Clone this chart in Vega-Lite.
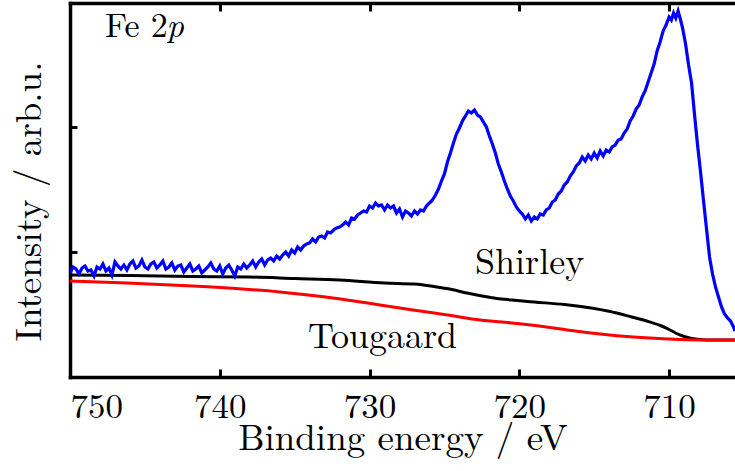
{
  "$schema": "https://vega.github.io/schema/vega-lite/v6.json",
  "width": 665,
  "height": 374,
  "autosize": {"type": "none"},
  "padding": {"left": 70, "top": 3, "right": 0, "bottom": 94},
  "config": {
    "view": {"stroke": null},
    "axis": {
      "grid": false,
      "domainColor": "black",
      "domainWidth": 3.5,
      "domainCap": "square",
      "tickColor": "black",
      "tickWidth": 3,
      "tickSize": -8,
      "labelFont": "Latin Modern Roman, CMU Serif, TeX Gyre Termes, Nimbus Roman, FreeSerif, Times, Liberation Serif, DejaVu Serif, serif",
      "titleFont": "Latin Modern Roman, CMU Serif, TeX Gyre Termes, Nimbus Roman, FreeSerif, Times, Liberation Serif, DejaVu Serif, serif",
      "labelFontSize": 35,
      "titleFontSize": 37,
      "titleFontWeight": "normal",
      "labelColor": "black",
      "titleColor": "black"
    }
  },
  "datasets": {
    "spectrum": [
      {"energy": 750.0, "intensity": 104}, {"energy": 749.8, "intensity": 110}, {"energy": 749.6, "intensity": 108}, {"energy": 749.4, "intensity": 103},
      {"energy": 749.2, "intensity": 109}, {"energy": 749.0, "intensity": 111}, {"energy": 748.8, "intensity": 106}, {"energy": 748.6, "intensity": 107},
      {"energy": 748.4, "intensity": 101}, {"energy": 748.2, "intensity": 110}, {"energy": 748.0, "intensity": 108}, {"energy": 747.8, "intensity": 113},
      {"energy": 747.6, "intensity": 106}, {"energy": 747.4, "intensity": 109}, {"energy": 747.2, "intensity": 102}, {"energy": 747.0, "intensity": 115},
      {"energy": 746.8, "intensity": 111}, {"energy": 746.6, "intensity": 108}, {"energy": 746.4, "intensity": 112}, {"energy": 746.2, "intensity": 107},
      {"energy": 746.0, "intensity": 113}, {"energy": 745.8, "intensity": 116}, {"energy": 745.6, "intensity": 109}, {"energy": 745.4, "intensity": 111},
      {"energy": 745.2, "intensity": 117}, {"energy": 745.0, "intensity": 110}, {"energy": 744.8, "intensity": 108}, {"energy": 744.6, "intensity": 113},
      {"energy": 744.4, "intensity": 115}, {"energy": 744.2, "intensity": 109}, {"energy": 744.0, "intensity": 112}, {"energy": 743.8, "intensity": 116},
      {"energy": 743.6, "intensity": 108}, {"energy": 743.4, "intensity": 110}, {"energy": 743.2, "intensity": 114}, {"energy": 743.0, "intensity": 107},
      {"energy": 742.8, "intensity": 111}, {"energy": 742.6, "intensity": 112}, {"energy": 742.4, "intensity": 105}, {"energy": 742.2, "intensity": 109},
      {"energy": 742.0, "intensity": 113}, {"energy": 741.8, "intensity": 106}, {"energy": 741.6, "intensity": 108}, {"energy": 741.4, "intensity": 111},
      {"energy": 741.2, "intensity": 104}, {"energy": 741.0, "intensity": 107}, {"energy": 740.8, "intensity": 110}, {"energy": 740.6, "intensity": 114},
      {"energy": 740.4, "intensity": 108}, {"energy": 740.2, "intensity": 106}, {"energy": 740.0, "intensity": 111}, {"energy": 739.8, "intensity": 103},
      {"energy": 739.6, "intensity": 109}, {"energy": 739.4, "intensity": 112}, {"energy": 739.2, "intensity": 107}, {"energy": 739.0, "intensity": 101},
      {"energy": 738.8, "intensity": 110}, {"energy": 738.6, "intensity": 108}, {"energy": 738.4, "intensity": 113}, {"energy": 738.2, "intensity": 109},
      {"energy": 738.0, "intensity": 112}, {"energy": 737.8, "intensity": 116}, {"energy": 737.6, "intensity": 110}, {"energy": 737.4, "intensity": 115},
      {"energy": 737.2, "intensity": 118}, {"energy": 737.0, "intensity": 112}, {"energy": 736.8, "intensity": 117}, {"energy": 736.6, "intensity": 119},
      {"energy": 736.4, "intensity": 116}, {"energy": 736.2, "intensity": 121}, {"energy": 736.0, "intensity": 118}, {"energy": 735.8, "intensity": 122},
      {"energy": 735.6, "intensity": 125}, {"energy": 735.4, "intensity": 121}, {"energy": 735.2, "intensity": 127}, {"energy": 735.0, "intensity": 124},
      {"energy": 734.8, "intensity": 130}, {"energy": 734.6, "intensity": 127}, {"energy": 734.4, "intensity": 131}, {"energy": 734.2, "intensity": 133},
      {"energy": 734.0, "intensity": 134}, {"energy": 733.8, "intensity": 138}, {"energy": 733.6, "intensity": 135}, {"energy": 733.4, "intensity": 140},
      {"energy": 733.2, "intensity": 141}, {"energy": 733.0, "intensity": 139}, {"energy": 732.8, "intensity": 145}, {"energy": 732.6, "intensity": 144},
      {"energy": 732.4, "intensity": 147}, {"energy": 732.2, "intensity": 149}, {"energy": 732.0, "intensity": 150}, {"energy": 731.8, "intensity": 152},
      {"energy": 731.6, "intensity": 155}, {"energy": 731.4, "intensity": 152}, {"energy": 731.2, "intensity": 159}, {"energy": 731.0, "intensity": 158},
      {"energy": 730.8, "intensity": 162}, {"energy": 730.6, "intensity": 164}, {"energy": 730.4, "intensity": 166}, {"energy": 730.2, "intensity": 165},
      {"energy": 730.0, "intensity": 171}, {"energy": 729.8, "intensity": 169}, {"energy": 729.6, "intensity": 174}, {"energy": 729.4, "intensity": 171},
      {"energy": 729.2, "intensity": 172}, {"energy": 729.0, "intensity": 167}, {"energy": 728.8, "intensity": 172}, {"energy": 728.6, "intensity": 169},
      {"energy": 728.4, "intensity": 171}, {"energy": 728.2, "intensity": 164}, {"energy": 728.0, "intensity": 168}, {"energy": 727.8, "intensity": 160},
      {"energy": 727.6, "intensity": 166}, {"energy": 727.4, "intensity": 164}, {"energy": 727.2, "intensity": 161}, {"energy": 727.0, "intensity": 166},
      {"energy": 726.8, "intensity": 163}, {"energy": 726.6, "intensity": 167}, {"energy": 726.4, "intensity": 166}, {"energy": 726.2, "intensity": 171},
      {"energy": 726.0, "intensity": 174}, {"energy": 725.8, "intensity": 177}, {"energy": 725.6, "intensity": 182}, {"energy": 725.4, "intensity": 188},
      {"energy": 725.2, "intensity": 196}, {"energy": 725.0, "intensity": 203}, {"energy": 724.8, "intensity": 215}, {"energy": 724.6, "intensity": 224},
      {"energy": 724.4, "intensity": 234}, {"energy": 724.2, "intensity": 243}, {"energy": 724.0, "intensity": 249}, {"energy": 723.8, "intensity": 256},
      {"energy": 723.6, "intensity": 261}, {"energy": 723.4, "intensity": 266}, {"energy": 723.2, "intensity": 264}, {"energy": 723.0, "intensity": 267},
      {"energy": 722.8, "intensity": 262}, {"energy": 722.6, "intensity": 260}, {"energy": 722.4, "intensity": 255}, {"energy": 722.2, "intensity": 250},
      {"energy": 722.0, "intensity": 241}, {"energy": 721.8, "intensity": 233}, {"energy": 721.6, "intensity": 224}, {"energy": 721.4, "intensity": 213},
      {"energy": 721.2, "intensity": 205}, {"energy": 721.0, "intensity": 196}, {"energy": 720.8, "intensity": 188}, {"energy": 720.6, "intensity": 181},
      {"energy": 720.4, "intensity": 176}, {"energy": 720.2, "intensity": 170}, {"energy": 720.0, "intensity": 166}, {"energy": 719.8, "intensity": 163},
      {"energy": 719.6, "intensity": 158}, {"energy": 719.4, "intensity": 162}, {"energy": 719.2, "intensity": 156}, {"energy": 719.0, "intensity": 160},
      {"energy": 718.8, "intensity": 158}, {"energy": 718.6, "intensity": 163}, {"energy": 718.4, "intensity": 162}, {"energy": 718.2, "intensity": 167},
      {"energy": 718.0, "intensity": 169}, {"energy": 717.8, "intensity": 175}, {"energy": 717.6, "intensity": 177}, {"energy": 717.4, "intensity": 183},
      {"energy": 717.2, "intensity": 186}, {"energy": 717.0, "intensity": 192}, {"energy": 716.8, "intensity": 195}, {"energy": 716.6, "intensity": 201},
      {"energy": 716.4, "intensity": 205}, {"energy": 716.2, "intensity": 211}, {"energy": 716.0, "intensity": 214}, {"energy": 715.8, "intensity": 220},
      {"energy": 715.6, "intensity": 216}, {"energy": 715.4, "intensity": 222}, {"energy": 715.2, "intensity": 218}, {"energy": 715.0, "intensity": 224},
      {"energy": 714.8, "intensity": 219}, {"energy": 714.6, "intensity": 226}, {"energy": 714.4, "intensity": 221}, {"energy": 714.2, "intensity": 227},
      {"energy": 714.0, "intensity": 225}, {"energy": 713.8, "intensity": 230}, {"energy": 713.6, "intensity": 232}, {"energy": 713.4, "intensity": 237},
      {"energy": 713.2, "intensity": 238}, {"energy": 713.0, "intensity": 244}, {"energy": 712.8, "intensity": 248}, {"energy": 712.6, "intensity": 256},
      {"energy": 712.4, "intensity": 261}, {"energy": 712.2, "intensity": 268}, {"energy": 712.0, "intensity": 272}, {"energy": 711.8, "intensity": 280},
      {"energy": 711.6, "intensity": 286}, {"energy": 711.4, "intensity": 295}, {"energy": 711.2, "intensity": 304}, {"energy": 711.0, "intensity": 313},
      {"energy": 710.8, "intensity": 326}, {"energy": 710.6, "intensity": 335}, {"energy": 710.4, "intensity": 346}, {"energy": 710.2, "intensity": 352},
      {"energy": 710.0, "intensity": 360}, {"energy": 709.85, "intensity": 357}, {"energy": 709.7, "intensity": 364}, {"energy": 709.55, "intensity": 359},
      {"energy": 709.4, "intensity": 366}, {"energy": 709.25, "intensity": 358}, {"energy": 709.1, "intensity": 349}, {"energy": 708.9, "intensity": 333},
      {"energy": 708.7, "intensity": 312}, {"energy": 708.5, "intensity": 294}, {"energy": 708.3, "intensity": 262}, {"energy": 708.1, "intensity": 232},
      {"energy": 707.9, "intensity": 205}, {"energy": 707.7, "intensity": 176}, {"energy": 707.5, "intensity": 148}, {"energy": 707.3, "intensity": 120},
      {"energy": 707.1, "intensity": 103}, {"energy": 706.9, "intensity": 90}, {"energy": 706.7, "intensity": 80}, {"energy": 706.5, "intensity": 70},
      {"energy": 706.3, "intensity": 63}, {"energy": 706.1, "intensity": 59}, {"energy": 705.9, "intensity": 56}, {"energy": 705.7, "intensity": 50},
      {"energy": 705.6, "intensity": 46}
    ],
    "shirley": [
      {"energy": 750, "intensity": 102}, {"energy": 746, "intensity": 101.5}, {"energy": 742, "intensity": 100.5}, {"energy": 738, "intensity": 100},
      {"energy": 735, "intensity": 98.5}, {"energy": 732, "intensity": 97}, {"energy": 729, "intensity": 94}, {"energy": 727, "intensity": 93},
      {"energy": 725.5, "intensity": 90}, {"energy": 724.5, "intensity": 87.5}, {"energy": 723.5, "intensity": 84}, {"energy": 722.5, "intensity": 81},
      {"energy": 721.5, "intensity": 78.5}, {"energy": 720.5, "intensity": 77}, {"energy": 719, "intensity": 75}, {"energy": 717, "intensity": 72.5},
      {"energy": 715, "intensity": 68.5}, {"energy": 713.5, "intensity": 64}, {"energy": 712.5, "intensity": 60}, {"energy": 711.5, "intensity": 56},
      {"energy": 710.5, "intensity": 51}, {"energy": 710, "intensity": 47.5}, {"energy": 709.5, "intensity": 43.5}, {"energy": 709, "intensity": 40.5},
      {"energy": 708.5, "intensity": 38.5}, {"energy": 708, "intensity": 37.5}, {"energy": 707, "intensity": 37}, {"energy": 705.6, "intensity": 37}
    ],
    "tougaard": [
      {"energy": 750, "intensity": 96}, {"energy": 746.2, "intensity": 94}, {"energy": 741.8, "intensity": 91}, {"energy": 738.5, "intensity": 88},
      {"energy": 736, "intensity": 85}, {"energy": 733.5, "intensity": 81}, {"energy": 731.5, "intensity": 77}, {"energy": 729.3, "intensity": 72},
      {"energy": 727.1, "intensity": 67}, {"energy": 724.8, "intensity": 62}, {"energy": 722.6, "intensity": 57}, {"energy": 720.5, "intensity": 54},
      {"energy": 718.2, "intensity": 50}, {"energy": 716.8, "intensity": 47}, {"energy": 714.6, "intensity": 43}, {"energy": 712.4, "intensity": 40},
      {"energy": 710.1, "intensity": 38}, {"energy": 707.9, "intensity": 37}, {"energy": 705.6, "intensity": 37}
    ],
    "energyTicks": [
      {"energy": 710}, {"energy": 720}, {"energy": 730}, {"energy": 740}
    ],
    "panelLabel": [
      {"energy": 747.66, "intensity": 340, "text": "Fe 2"}
    ],
    "panelLabelItalic": [
      {"energy": 743.55, "intensity": 340, "text": "p"}
    ],
    "curveLabels": [
      {"energy": 722.96, "intensity": 103, "text": "Shirley"},
      {"energy": 734.11, "intensity": 29, "text": "Tougaard"}
    ]
  },
  "encoding": {
    "x": {
      "field": "energy",
      "type": "quantitative",
      "scale": {"domain": [705.6, 750], "reverse": true, "nice": false, "zero": false},
      "axis": null
    },
    "y": {
      "field": "intensity",
      "type": "quantitative",
      "scale": {"domain": [0, 374], "nice": false, "zero": false},
      "axis": {
        "values": [125, 250],
        "labels": false,
        "tickSize": -7,
        "title": "Intensity / arb.u.",
        "titleX": -30,
        "titleY": 198,
        "titleAngle": -90,
        "titleAlign": "center",
        "titleBaseline": "alphabetic"
      }
    }
  },
  "layer": [
    {
      "data": {"name": "shirley"},
      "mark": {"type": "line", "color": "black", "strokeWidth": 3, "interpolate": "monotone", "clip": true},
      "encoding": {
        "x": {
          "field": "energy",
          "type": "quantitative",
          "scale": {"domain": [705.6, 750], "reverse": true, "nice": false, "zero": false},
          "axis": {
            "orient": "bottom",
            "values": [710, 720, 730, 740, 750],
            "tickSize": -8,
            "labelBaseline": "alphabetic",
            "labelPadding": 48,
            "title": "Binding energy / eV",
            "titleY": 72,
            "titleBaseline": "alphabetic"
          }
        }
      }
    },
    {
      "data": {"name": "tougaard"},
      "mark": {"type": "line", "color": "#ff0000", "strokeWidth": 3, "interpolate": "monotone", "clip": true}
    },
    {
      "data": {"name": "spectrum"},
      "mark": {"type": "line", "color": "#0000ff", "strokeWidth": 3.2, "clip": true}
    },
    {
      "data": {"name": "energyTicks"},
      "mark": {"type": "rule", "color": "black", "strokeWidth": 3},
      "encoding": {
        "y": {"datum": 0, "type": "quantitative"},
        "y2": {"datum": 6.5}
      }
    },
    {
      "data": {"name": "energyTicks"},
      "mark": {"type": "rule", "color": "black", "strokeWidth": 3},
      "encoding": {
        "y": {"datum": 374, "type": "quantitative"},
        "y2": {"datum": 367.5}
      }
    },
    {
      "data": {"name": "curveLabels"},
      "mark": {"type": "text", "font": "Latin Modern Roman, CMU Serif, TeX Gyre Termes, Nimbus Roman, FreeSerif, Times, Liberation Serif, DejaVu Serif, serif", "fontSize": 36, "align": "left", "baseline": "alphabetic", "color": "black"},
      "encoding": {"text": {"field": "text"}}
    },
    {
      "data": {"name": "panelLabel"},
      "mark": {"type": "text", "font": "Latin Modern Roman, CMU Serif, TeX Gyre Termes, Nimbus Roman, FreeSerif, Times, Liberation Serif, DejaVu Serif, serif", "fontSize": 34, "align": "left", "baseline": "alphabetic", "color": "black"},
      "encoding": {"text": {"field": "text"}}
    },
    {
      "data": {"name": "panelLabelItalic"},
      "mark": {"type": "text", "font": "Latin Modern Roman, CMU Serif, TeX Gyre Termes, Nimbus Roman, FreeSerif, Times, Liberation Serif, DejaVu Serif, serif", "fontSize": 34, "fontStyle": "italic", "align": "left", "baseline": "alphabetic", "color": "black"},
      "encoding": {
        "text": {"field": "text"},
        "x": {
          "field": "energy",
          "type": "quantitative",
          "scale": {"domain": [705.6, 750], "reverse": true, "nice": false, "zero": false},
          "axis": {
            "orient": "top",
            "values": [710, 720, 730, 740, 750],
            "tickSize": -8,
            "labels": false,
            "title": null
          }
        }
      }
    }
  ],
  "resolve": {"axis": {"x": "independent"}}
}
